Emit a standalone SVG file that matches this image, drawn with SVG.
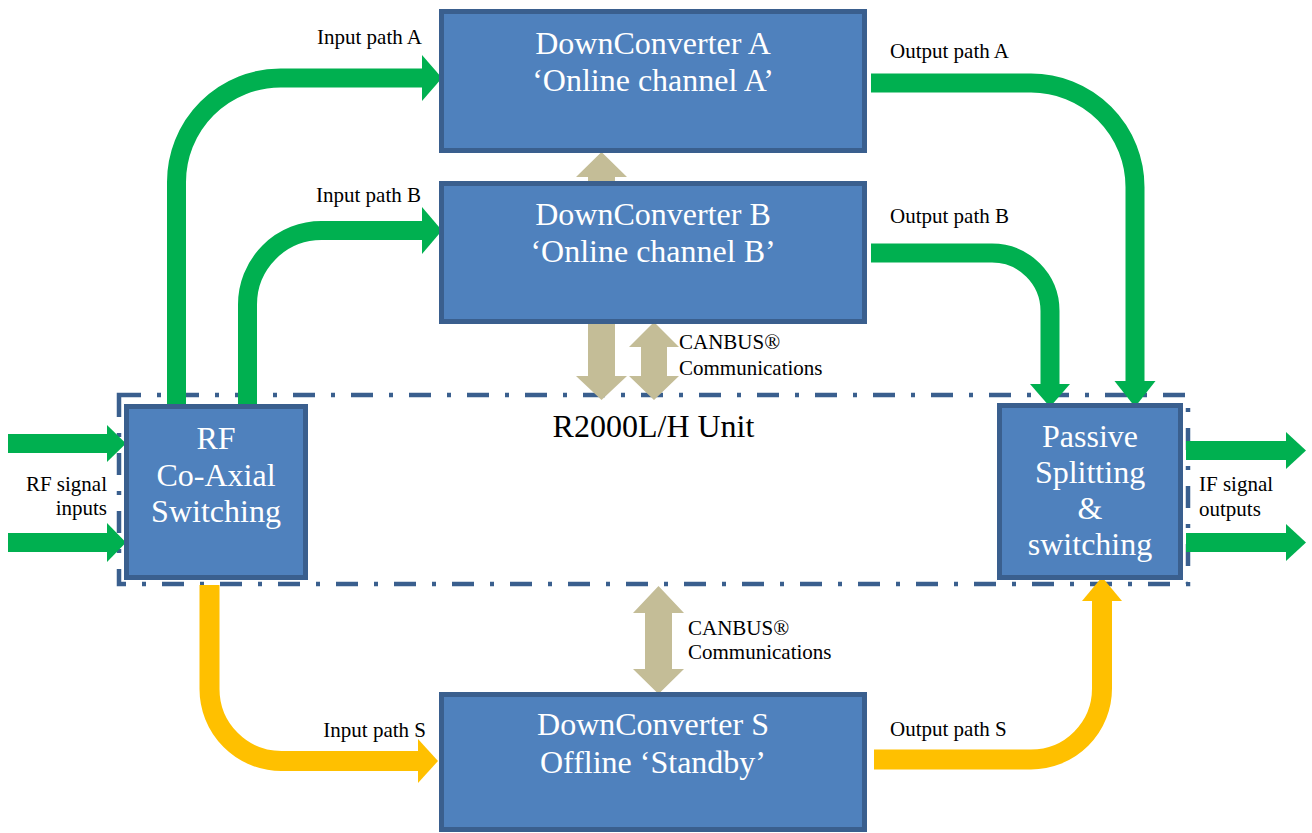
<svg xmlns="http://www.w3.org/2000/svg" width="1312" height="833" viewBox="0 0 1312 833">
<style>
.box{fill:#4F81BD;stroke:#3A5F8E;stroke-width:5}
.bt{font-family:"Liberation Serif","Times New Roman",serif;font-size:32px;fill:#FFFFFF;text-anchor:middle}
.lb{font-family:"Liberation Serif","Times New Roman",serif;font-size:21px;fill:#000000}
.g{fill:none;stroke:#00B050;stroke-width:19}
.gh{fill:#00B050}
.y{fill:none;stroke:#FFC000;stroke-width:20}
.yh{fill:#FFC000}
.t{fill:#C4BD97}
.unit{fill:none;stroke:#3A5F8E;stroke-width:4.5;stroke-dasharray:22 16 4 16}
</style>
<rect width="1312" height="833" fill="#FFFFFF"/>
<g id="unit">
<rect class="unit" x="119" y="395" width="1069" height="189"/>
<text class="bt" x="653.5" y="437" style="fill:#000000">R2000L/H Unit</text>
</g>
<g id="connectors">
<!-- CANBUS double arrows -->
<polygon class="t" points="601.5,152 627,177 615,177 615,376 627,376 601.5,400 576,376 588,376 588,177 576,177"/>
<polygon class="t" points="654,322 679,347 667,347 667,376 679,376 654,400 629,376 641,376 641,347 629,347"/>
<polygon class="t" points="658.5,586 684,613 672,613 672,669 684,669 658.5,694 633,669 645,669 645,613 633,613"/>
<!-- Input path A -->
<path class="g" d="M176.5 404 V182 A104 104 0 0 1 280.5 78 H423"/>
<polygon class="gh" points="422,55 442,78 422,101"/>
<!-- Input path B -->
<path class="g" d="M247.5 404 V304.5 A74 74 0 0 1 321.5 230.5 H423"/>
<polygon class="gh" points="422,207 442,230.5 422,254"/>
<!-- Output path A -->
<path class="g" d="M871 83 H1031 A104 104 0 0 1 1135 187 V382"/>
<polygon class="gh" points="1114.5,381 1155.5,381 1135,407"/>
<!-- Output path B -->
<path class="g" d="M871 253 H992 A58 58 0 0 1 1050 311 V385"/>
<polygon class="gh" points="1030,384 1070,384 1050,407"/>
<!-- RF inputs -->
<path class="g" d="M8 443.5 H108"/>
<polygon class="gh" points="107,425 126,443.5 107,462"/>
<path class="g" d="M8 542.5 H108"/>
<polygon class="gh" points="107,523 126,542.5 107,562"/>
<!-- IF outputs -->
<path class="g" d="M1186 450.5 H1287"/>
<polygon class="gh" points="1286,432 1306,450.5 1286,469"/>
<path class="g" d="M1186 542.5 H1287"/>
<polygon class="gh" points="1286,524 1306,542.5 1286,561"/>
<!-- Input path S -->
<path class="y" d="M209.5 585 V689 A72 72 0 0 0 281.5 761 H419"/>
<polygon class="yh" points="418,739 438,761 418,783"/>
<!-- Output path S -->
<path class="y" d="M874 759.5 H1031 A71 71 0 0 0 1102 688.5 V600"/>
<polygon class="yh" points="1082,601 1122,601 1102,577"/>
</g>
<g id="dc-a">
<rect class="box" x="441.5" y="11.5" width="423" height="139"/>
<text class="bt" x="653" y="54">DownConverter A</text>
<text class="bt" x="653" y="91">‘Online channel A’</text>
</g>
<g id="dc-b">
<rect class="box" x="441.5" y="183.5" width="423" height="138"/>
<text class="bt" x="653" y="225">DownConverter B</text>
<text class="bt" x="653" y="262">‘Online channel B’</text>
</g>
<g id="dc-s">
<rect class="box" x="441.5" y="694.5" width="423" height="135"/>
<text class="bt" x="653" y="735">DownConverter S</text>
<text class="bt" x="653" y="773">Offline ‘Standby’</text>
</g>
<g id="rf-switch">
<rect class="box" x="126.5" y="406.5" width="179" height="171"/>
<text class="bt" x="216" y="449">RF</text>
<text class="bt" x="216" y="485.5">Co-Axial</text>
<text class="bt" x="216" y="522">Switching</text>
</g>
<g id="passive">
<rect class="box" x="999.5" y="405.5" width="181" height="172"/>
<text class="bt" x="1090" y="447">Passive</text>
<text class="bt" x="1090" y="483">Splitting</text>
<text class="bt" x="1090" y="519">&amp;</text>
<text class="bt" x="1090" y="555">switching</text>
</g>
<g id="labels">
<text class="lb" x="422" y="44" text-anchor="end">Input path A</text>
<text class="lb" x="421" y="202" text-anchor="end">Input path B</text>
<text class="lb" x="890" y="58">Output path A</text>
<text class="lb" x="890" y="223">Output path B</text>
<text class="lb" x="426" y="737" text-anchor="end">Input path S</text>
<text class="lb" x="890" y="736">Output path S</text>
<text class="lb" x="107" y="491" text-anchor="end">RF signal</text>
<text class="lb" x="107" y="515" text-anchor="end">inputs</text>
<text class="lb" x="1199" y="491">IF signal</text>
<text class="lb" x="1199" y="516">outputs</text>
<text class="lb" x="679" y="349">CANBUS®</text>
<text class="lb" x="679" y="375">Communications</text>
<text class="lb" x="688" y="635">CANBUS®</text>
<text class="lb" x="688" y="659">Communications</text>
</g>
</svg>
